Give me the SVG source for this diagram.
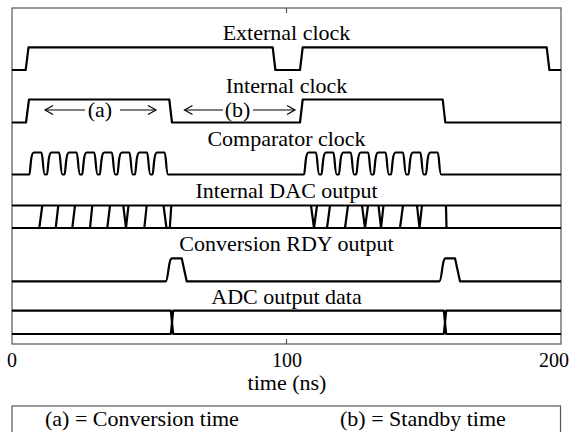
<svg xmlns="http://www.w3.org/2000/svg" width="576" height="432" viewBox="0 0 576 432">
<style>
text{fill:#000}
.lbl{font-size:22px;text-anchor:middle}
.tick{font-size:20px;text-anchor:middle}
.sig{fill:none;stroke:#000;stroke-width:2.2;stroke-linejoin:round;stroke-linecap:butt}
.frame{fill:none;stroke:#555;stroke-width:1.2}
.arr{fill:none;stroke:#000;stroke-width:1.2;marker-end:url(#ah)}
</style>
<defs>
<marker id="ah" viewBox="-10 -6 12 12" refX="0" refY="0" markerWidth="12" markerHeight="12" markerUnits="userSpaceOnUse" orient="auto">
<path d="M-8,-4.5 L0,0 L-8,4.5" fill="none" stroke="#000" stroke-width="1.2"/>
</marker>
</defs>
<rect width="576" height="432" fill="#fff"/>
<g font-family="'Liberation Serif', 'DejaVu Serif', 'Times New Roman', serif">
<g id="plot-frame">
<rect class="frame" x="12" y="8" width="549" height="336"/>
<line class="frame" x1="286.5" y1="8" x2="286.5" y2="13"/>
<line class="frame" x1="286.5" y1="344" x2="286.5" y2="339"/>
</g>
<g id="external-clock">
<text class="lbl" x="286.5" y="39.5">External clock</text>
<path class="sig" d="M12,70 H25.7 L28.5,47.3 H272.7 L275.4,70 H300 L302.7,47.3 H546.7 L549.4,70 H561"/>
</g>
<g id="internal-clock">
<text class="lbl" x="286.5" y="92.5">Internal clock</text>
<path class="sig" d="M12,122.5 H26 L29,99.5 H169.3 L172,122.5 H300 L302.7,99.5 H442.7 L445.3,122.5 H561"/>
</g>
<g id="comparator-clock">
<text class="lbl" x="286.5" y="145.5">Comparator clock</text>
<path class="sig" d="M12,174.5 H29.3
c1.2,0 1,-22 4.5,-22 h7.6 c1.5,0 1.5,22 3.5,22 h2
c1.2,0 1,-22 4.5,-22 h7.6 c1.5,0 1.5,22 3.5,22 h2
c1.2,0 1,-22 4.5,-22 h7.6 c1.5,0 1.5,22 3.5,22 h2
c1.2,0 1,-22 4.5,-22 h7.6 c1.5,0 1.5,22 3.5,22 h2
c1.2,0 1,-22 4.5,-22 h7.6 c1.5,0 1.5,22 3.5,22 h2
c1.2,0 1,-22 4.5,-22 h7.6 c1.5,0 1.5,22 3.5,22 h2
c1.2,0 1,-22 4.5,-22 h7.6 c1.5,0 1.5,22 3.5,22 h2
c1.2,0 1,-22 4.5,-22 h7.6 c1.5,0 1.5,22 3.5,22
H304
c1.2,0 1,-22 4.5,-22 h7.4 c1.5,0 1.5,22 3.5,22 h2
c1.2,0 1,-22 4.5,-22 h7.4 c1.5,0 1.5,22 3.5,22 h2
c1.2,0 1,-22 4.5,-22 h7.4 c1.5,0 1.5,22 3.5,22 h2
c1.2,0 1,-22 4.5,-22 h7.4 c1.5,0 1.5,22 3.5,22 h2
c1.2,0 1,-22 4.5,-22 h7.4 c1.5,0 1.5,22 3.5,22 h2
c1.2,0 1,-22 4.5,-22 h7.4 c1.5,0 1.5,22 3.5,22 h2
c1.2,0 1,-22 4.5,-22 h7.4 c1.5,0 1.5,22 3.5,22 h2
c1.2,0 1,-22 4.5,-22 h7.4 c1.5,0 1.5,22 3.5,22
H561"/>
</g>
<g id="internal-dac-output">
<text class="lbl" x="286.5" y="197.5">Internal DAC output</text>
<path class="sig" d="M12,205.5 H561 M12,228 H561
M39.3,228 L42.3,205.5 M55.7,228 L58.3,205.5 M72.3,228 L75,205.5 M90,228 L92.3,205.5 M107.3,228 L110,205.5
M123.3,205.5 L126,228 L128.5,205.5 M144.3,228 L146.7,205.5 M163.5,205.5 L166.5,228 M169.8,228 L171.3,205.5
M311,205.5 L314,228 L317,205.5 M327,228 L330,205.5 M345,228 L348,205.5 M362,205.5 L365,228 L368,205.5
M378.5,205.5 L381,228 L383.5,205.5 M400,228 L403,205.5 M417,205.5 L419.5,228 L422,205.5 M446.5,228 L446,205.5"/>
</g>
<g id="conversion-rdy-output">
<text class="lbl" x="286.5" y="251">Conversion RDY output</text>
<path class="sig" d="M12,281.3 H165.7 C168.3,281.3 168.3,258.3 172,258.3 H181.7 L186.7,281.3 H439.3 C442,281.3 442,258.3 445.5,258.3 H455 L460,281.3 H561"/>
</g>
<g id="adc-output-data">
<text class="lbl" x="286.5" y="303.5">ADC output data</text>
<path class="sig" d="M12,310.7 H170.8 L173.2,334 H443.8 L446.2,310.7 H561"/>
<path class="sig" d="M12,334 H170.8 L173.2,310.7 H443.8 L446.2,334 H561"/>
</g>
<g id="connectors">
<line class="arr" x1="85" y1="110" x2="45" y2="110"/>
<line class="arr" x1="120" y1="110" x2="156" y2="110"/>
<line class="arr" x1="223" y1="110" x2="184.5" y2="110"/>
<line class="arr" x1="253" y1="110" x2="295" y2="110"/>
</g>
<g id="interval-labels">
<text class="lbl" x="100" y="116.5">(a)</text>
<text class="lbl" x="237.5" y="116.5">(b)</text>
</g>
<g id="axis">
<text class="tick" x="12" y="366.5">0</text>
<text class="tick" x="287" y="366.5">100</text>
<text class="tick" x="554" y="366.5">200</text>
<text class="lbl" x="287" y="390">time (ns)</text>
</g>
<g id="legend">
<rect class="frame" x="12" y="406" width="548.5" height="40"/>
<text x="45" y="426" font-size="22">(a) = Conversion time</text>
<text x="340" y="426" font-size="22">(b) = Standby time</text>
</g>
</g>
</svg>
